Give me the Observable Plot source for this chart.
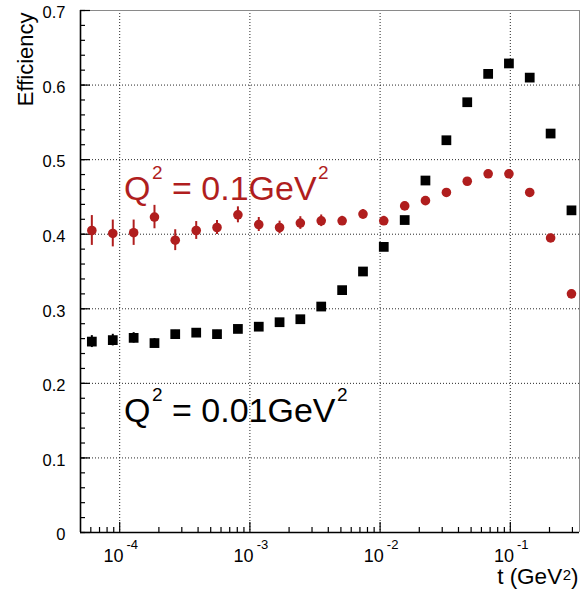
<!DOCTYPE html>
<html>
<head>
<meta charset="utf-8">
<script src="https://cdn.jsdelivr.net/npm/d3@7"></script>
<script src="https://cdn.jsdelivr.net/npm/@observablehq/plot@0.6"></script>
<style>
  html, body { margin: 0; padding: 0; background: #fff; }
</style>
</head>
<body>
<div id="chart"></div>
<script>
// Bin centres in t (GeV^2), logarithmic binning
const tBins = [6.11e-5, 8.85e-5, 1.28e-4, 1.85e-4, 2.67e-4, 3.87e-4, 5.59e-4, 8.09e-4,
  1.17e-3, 1.69e-3, 2.44e-3, 3.53e-3, 5.11e-3, 7.39e-3, 1.067e-2, 1.545e-2,
  2.23e-2, 3.23e-2, 4.67e-2, 6.76e-2, 9.76e-2, 0.141, 0.204, 0.295];

// Efficiency at Q^2 = 0.01 GeV^2 (black squares)
const effLowQ2 = [0.256, 0.258, 0.261, 0.254, 0.266, 0.268, 0.266, 0.273,
  0.276, 0.282, 0.286, 0.303, 0.325, 0.350, 0.383, 0.419,
  0.472, 0.526, 0.577, 0.615, 0.629, 0.610, 0.535, 0.432];
const errLowQ2 = [0.008, 0.0078, 0.007, 0.006, 0.005, 0.005, 0.005, 0.0045,
  0.0045, 0.004, 0.004, 0.004, 0.004, 0.004, 0.004, 0.004,
  0.004, 0.004, 0.004, 0.004, 0.004, 0.004, 0.004, 0.004];

// Efficiency at Q^2 = 0.1 GeV^2 (red circles)
const effHighQ2 = [0.405, 0.401, 0.402, 0.423, 0.392, 0.405, 0.409, 0.426,
  0.413, 0.409, 0.415, 0.418, 0.418, 0.427, 0.418, 0.438,
  0.445, 0.456, 0.471, 0.481, 0.481, 0.456, 0.395, 0.320];
const errHighQ2 = [0.020, 0.018, 0.017, 0.0157, 0.014, 0.012, 0.0094, 0.0107,
  0.0094, 0.0085, 0.0085, 0.0078, 0.006, 0.006, 0.006, 0.005,
  0.005, 0.005, 0.005, 0.005, 0.005, 0.005, 0.005, 0.005];

// Axis ranges and ticks
const tRange = [5e-5, 0.34];
const effRange = [0, 0.7];
const effMajor = [0, 0.1, 0.2, 0.3, 0.4, 0.5, 0.6, 0.7];
const effMinor = d3.range(0, 71, 2).map(k => k / 100);
const tDecades = [1e-4, 1e-3, 1e-2, 1e-1];
const tMinor = [6e-5, 7e-5, 8e-5, 9e-5,
  2e-4, 3e-4, 4e-4, 5e-4, 6e-4, 7e-4, 8e-4, 9e-4,
  2e-3, 3e-3, 4e-3, 5e-3, 6e-3, 7e-3, 8e-3, 9e-3,
  2e-2, 3e-2, 4e-2, 5e-2, 6e-2, 7e-2, 8e-2, 9e-2,
  2e-1, 3e-1];

// In-plot annotations
const labelText = ["Q^2 = 0.1GeV^2", "Q^2 = 0.01GeV^2"];
const labelT = [1.08e-4, 1.08e-4];
const labelEff = [0.446, 0.148];
const labelColor = ["#b01e1e", "#000000"];

const red = "#b01e1e";
const rowsLow = tBins.map((t, i) => ({t, eff: effLowQ2[i], err: errLowQ2[i]}));
const rowsHigh = tBins.map((t, i) => ({t, eff: effHighQ2[i], err: errHighQ2[i]}));
const labels = labelText.map((text, i) => ({text, t: labelT[i], eff: labelEff[i], color: labelColor[i]}));

const dotted = {stroke: "#000", strokeDasharray: "1,2", strokeWidth: 1, strokeOpacity: 0.85};

const chart = Plot.plot({
  width: 582,
  height: 592,
  marginLeft: 80,
  marginRight: 3,
  marginTop: 10,
  marginBottom: 60,
  style: {fontFamily: "'Liberation Sans', Arial, Helvetica, sans-serif", fontSize: "16px", background: "#fff", color: "#000"},
  x: {type: "log", domain: tRange},
  y: {domain: effRange},
  marks: [
    // dotted grid
    Plot.gridX(tDecades, dotted),
    Plot.gridY(effMajor.slice(1), dotted),
    // frame: light top/right, solid left/bottom axes
    Plot.ruleY([effRange[1]], {stroke: "#8a8a8a", strokeWidth: 1}),
    Plot.ruleX([tRange[1]], {stroke: "#8a8a8a", strokeWidth: 1}),
    // inward ticks
    Plot.axisY(effMinor, {tickSize: -5, tickFormat: () => "", label: null, strokeWidth: 1.2}),
    Plot.axisY(effMajor, {tickSize: -10, tickFormat: () => "", label: null, strokeWidth: 1.2}),
    Plot.axisX(tMinor, {tickSize: -5, tickFormat: () => "", label: null, strokeWidth: 1.2}),
    Plot.axisX(tDecades, {tickSize: -10, tickFormat: () => "", label: null, strokeWidth: 1.2}),
    Plot.ruleX([tRange[0]], {stroke: "#000", strokeWidth: 1.6}),
    Plot.ruleY([effRange[0]], {stroke: "#000", strokeWidth: 1.6}),
    // tick labels
    Plot.text(effMajor, {y: d => d, frameAnchor: "left", textAnchor: "end", dx: -15, dy: 2.5,
      fontSize: 16.5, text: d => d === 0 ? "0" : d3.format(".1f")(d)}),
    Plot.text(tDecades, {x: d => d, frameAnchor: "bottom", textAnchor: "start", lineAnchor: "bottom",
      dx: -16.3, dy: 29.7, fontSize: 18, text: d => "10^{" + Math.round(Math.log10(d)) + "}"}),
    // axis titles
    Plot.text(["Efficiency"], {frameAnchor: "top-left", rotate: -90, textAnchor: "end", lineAnchor: "bottom",
      dx: -48, dy: 2, fontSize: 22}),
    Plot.text(["t (GeV^2)"], {frameAnchor: "bottom-right", textAnchor: "end", lineAnchor: "bottom",
      dx: -1, dy: 51.3, fontSize: 22.5}),
    // error bars
    Plot.ruleX(rowsHigh, {x: "t", y1: d => d.eff - d.err, y2: d => d.eff + d.err, stroke: red, strokeWidth: 2}),
    Plot.ruleX(rowsLow, {x: "t", y1: d => d.eff - d.err, y2: d => d.eff + d.err, stroke: "#000", strokeWidth: 2}),
    // markers
    Plot.dot(rowsHigh, {x: "t", y: "eff", r: 4.8, fill: red, stroke: "none"}),
    Plot.dot(rowsLow, {x: "t", y: "eff", symbol: "square", r: 5.5, fill: "#000", stroke: "none"}),
    // Q^2 annotations
    Plot.text(labels, {x: "t", y: "eff", text: "text", fill: "color", textAnchor: "start", lineAnchor: "bottom",
      fontSize: 34})
  ]
});

// Turn "^x" / "^{..}" into raised tspans
function superscript(node, {size, rise, gap}) {
  const s = node.text();
  node.text(null);
  const parts = s.split(/\^(\{[^}]*\}|.)/);
  let raised = false;
  parts.forEach((p, i) => {
    if (i % 2 === 1) {
      node.append("tspan").attr("font-size", size).attr("dx", gap).attr("dy", -rise)
        .text(p.replace(/^\{|\}$/g, ""));
      raised = true;
    } else if (p) {
      const span = node.append("tspan").text(p);
      if (raised) span.attr("dy", rise);
      raised = false;
    }
  });
}

d3.select(chart).selectAll("text").each(function() {
  const node = d3.select(this);
  const s = node.text();
  if (!s.includes("^")) return;
  if (s.startsWith("10^")) superscript(node, {size: 13, rise: 13.4, gap: 3});
  else if (s.startsWith("t (")) superscript(node, {size: 15, rise: 4, gap: 0.5});
  else superscript(node, {size: 19, rise: 21, gap: 1.5});
});

document.getElementById("chart").append(chart);
</script>
</body>
</html>
